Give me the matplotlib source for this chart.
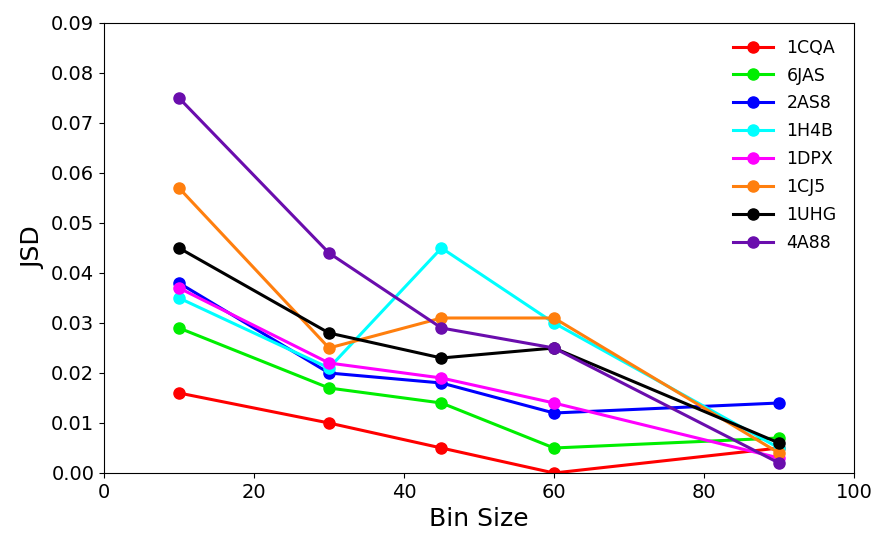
import matplotlib
matplotlib.use("Agg")
import matplotlib.pyplot as plt

bin_sizes = [10, 30, 45, 60, 90]
names = ["1CQA", "6JAS", "2AS8", "1H4B", "1DPX", "1CJ5", "1UHG", "4A88"]
colors = ["#ff0000", "#00ee00", "#0000ff", "#00ffff", "#ff00ff", "#ff7f0e", "#000000", "#6a0dad"]
v_1CQA = [0.016, 0.010, 0.005, 0.000, 0.005]
v_6JAS = [0.029, 0.017, 0.014, 0.005, 0.007]
v_2AS8 = [0.038, 0.020, 0.018, 0.012, 0.014]
v_1H4B = [0.035, 0.021, 0.045, 0.030, 0.005]
v_1DPX = [0.037, 0.022, 0.019, 0.014, 0.003]
v_1CJ5 = [0.057, 0.025, 0.031, 0.031, 0.004]
v_1UHG = [0.045, 0.028, 0.023, 0.025, 0.006]
v_4A88 = [0.075, 0.044, 0.029, 0.025, 0.002]
series = [v_1CQA, v_6JAS, v_2AS8, v_1H4B, v_1DPX, v_1CJ5, v_1UHG, v_4A88]

fig = plt.figure(figsize=(8.77, 5.35), dpi=100)
ax = fig.add_axes([104/877, 1-473/535, 750/877, 450/535])
for n, c, v in zip(names, colors, series):
    ax.plot(bin_sizes, v, "-o", color=c, label=n, linewidth=2.2, markersize=8)
ax.set_xlim(0, 100)
ax.set_ylim(0, 0.09)
ax.set_yticks([i*0.01 for i in range(10)])
ax.set_yticklabels([f"{i*0.01:.2f}" for i in range(10)])
ax.tick_params(labelsize=14)
ax.set_xlabel("Bin Size", fontsize=18)
ax.set_ylabel("JSD", fontsize=18)
ax.legend(frameon=False, fontsize=12.5, loc="upper right", handlelength=2.3,
          labelspacing=0.57, bbox_to_anchor=(0.998, 1.0))
fig.savefig("out.png", dpi=100)
